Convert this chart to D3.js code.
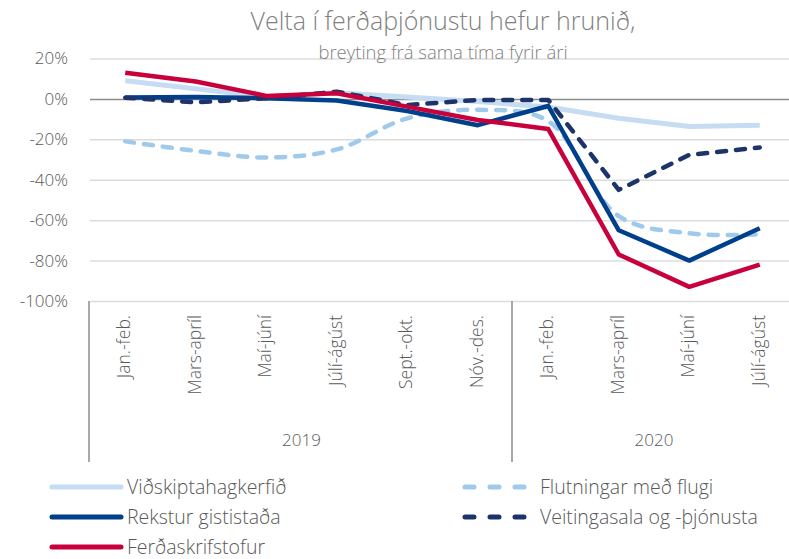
<!DOCTYPE html>
<html>
<head>
<meta charset="utf-8">
<script src="https://cdn.jsdelivr.net/npm/d3@7"></script>
<style>
	body { margin: 0; background: #fff; }
	svg { font-family: "Open Sans", sans-serif; }
</style>
</head>
<body>
<div id="chart"></div>
<script>
var periods = ["Jan.-feb.", "Mars-apríl", "Maí-júní", "Júlí-ágúst", "Sept.-okt.", "Nóv.-des.",
		"Jan.-feb.", "Mars-apríl", "Maí-júní", "Júlí-ágúst"];
var years = ["2019", "2020"];
var yearLength = [6, 4];

var vidskipta = [9, 5, 1, 3, 1, -1.3, -4, -9.6, -13.7, -13];
var flug = [-21, -25.7, -29, -25, -9.6, -5.4, -11, -58, -66.5, -67];
var gisting = [0.7, 1, 0.3, -0.8, -6, -13, -3.5, -65, -80, -64];
var ferdaskrif = [13, 8.6, 1.5, 2.8, -3.8, -10.4, -14.9, -77, -93, -82];
var veitingar = [0.6, -1.7, 0.3, 3.6, -3, -0.5, -0.5, -45, -27.7, -24];

var yTicks = [20, 0, -20, -40, -60, -80, -100];

var series = [
	{name: "Viðskiptahagkerfið", values: vidskipta, color: "#c6dcf3", width: 5, dash: null, smooth: false},
	{name: "Flutningar með flugi", values: flug, color: "#9fcaeb", width: 4.5, dash: "9,10", smooth: true},
	{name: "Rekstur gististaða", values: gisting, color: "#003f8c", width: 4.5, dash: null, smooth: false},
	{name: "Veitingasala og -þjónusta", values: veitingar, color: "#1c3469", width: 4.5, dash: "9,10", smooth: false},
	{name: "Ferðaskrifstofur", values: ferdaskrif, color: "#c8003c", width: 4.5, dash: null, smooth: false}
];

var width = 789, height = 559;
var margin = {top: 58, right: 0, bottom: 258, left: 90};

var svg = d3.select("#chart").append("svg")
		.attr("width", width)
		.attr("height", height);

var xScale = d3.scaleBand()
		.domain(d3.range(periods.length))
		.range([margin.left, margin.left + 70.5 * periods.length]);

var yScale = d3.scaleLinear()
		.domain([-100, 20])
		.range([301, 58.5]);

// Gridlines
var yAxis = d3.axisLeft(yScale)
		.tickValues(yTicks)
		.tickSize(-(width - margin.left))
		.tickFormat(function(d) { return d + "%"; });

var gy = svg.append("g")
		.attr("class", "y axis")
		.attr("transform", "translate(" + margin.left + ",0)")
		.call(yAxis);
gy.select(".domain").remove();
gy.selectAll(".tick line")
		.style("stroke", function(d) { return d === 0 ? "#8c8c8c" : "#dcdcdc"; })
		.style("stroke-width", 1.5);
gy.selectAll(".tick text")
		.attr("x", -22)
		.style("font-size", "17px").style("font-weight", 300)
		.style("fill", "#595959")
		.style("font-family", "Open Sans");

// Titles
svg.append("text")
		.attr("x", 443).attr("y", 30)
		.attr("text-anchor", "middle")
		.style("font-size", "25px").style("font-weight", 300)
		.style("fill", "#7f7f7f")
		.text("Velta í ferðaþjónustu hefur hrunið,");
svg.append("text")
		.attr("x", 443).attr("y", 59)
		.attr("text-anchor", "middle")
		.style("font-size", "18.5px").style("font-weight", 300)
		.style("fill", "#7f7f7f")
		.text("breyting frá sama tíma fyrir ári");

// Category axis
var gx = svg.append("g").attr("class", "x axis");
gx.selectAll(".cat")
		.data(periods)
		.enter().append("text")
		.attr("class", "cat")
		.attr("transform", function(d, i) {
			return "translate(" + (xScale(i) + xScale.bandwidth() / 2 + 5) + ",315) rotate(-90)";
		})
		.attr("text-anchor", "end")
		.style("font-size", "17.5px").style("font-weight", 300)
		.style("fill", "#595959")
		.text(function(d) { return d; });

// Year separators and labels
var cum = [0];
yearLength.forEach(function(n, i) { cum.push(cum[i] + n); });
[0, cum[1]].forEach(function(i) {
	gx.append("line")
			.attr("x1", xScale(i) - 1).attr("x2", xScale(i) - 1)
			.attr("y1", 301).attr("y2", 462)
			.style("stroke", "#8c8c8c").style("stroke-width", 1.5);
});
gx.selectAll(".year")
		.data(years)
		.enter().append("text")
		.attr("class", "year")
		.attr("x", function(d, i) {
			var a = xScale(cum[i]);
			var b = cum[i + 1] < periods.length ? xScale(cum[i + 1]) : xScale(periods.length - 1) + xScale.bandwidth();
			return (a + b) / 2;
		})
		.attr("y", 446)
		.attr("text-anchor", "middle")
		.style("font-size", "17px").style("font-weight", 300)
		.style("fill", "#595959")
		.text(function(d) { return d; });

// Lines
var body = svg.append("g").attr("class", "chart-body");
series.forEach(function(s) {
	var line = d3.line()
			.x(function(d, i) { return xScale(i) + xScale.bandwidth() / 2; })
			.y(function(d) { return yScale(d); })
			.curve(s.smooth ? d3.curveCatmullRom.alpha(0.5) : d3.curveLinear);
	body.append("path")
			.datum(s.values)
			.attr("d", line)
			.style("fill", "none")
			.style("stroke", s.color)
			.style("stroke-width", s.width)
			.style("stroke-linejoin", "round")
			.style("stroke-linecap", s.dash ? "round" : "butt")
			.style("stroke-dasharray", s.dash);
});

// Legend
var legendPos = [
	{x: 50, y: 487}, {x: 462, y: 487},
	{x: 50, y: 517}, {x: 462, y: 517},
	{x: 50, y: 547}
];
var legend = svg.append("g").attr("class", "legend");
series.forEach(function(s, i) {
	var p = legendPos[i];
	var g = legend.append("g").attr("transform", "translate(" + p.x + "," + p.y + ")");
	if (s.dash) {
		g.append("line")
				.attr("x1", 3).attr("x2", 66)
				.style("stroke", s.color).style("stroke-width", 5)
				.style("stroke-linecap", "round")
				.style("stroke-dasharray", "9,16");
	} else {
		g.append("line")
				.attr("x1", 2).attr("x2", 71)
				.style("stroke", s.color).style("stroke-width", 5)
				.style("stroke-linecap", "round");
	}
	g.append("text")
			.attr("x", s.dash ? 78 : 77)
			.attr("y", 6.5)
			.style("font-size", "19.5px").style("font-weight", 300)
			.style("fill", "#595959")
			.text(s.name);
});
</script>
</body>
</html>
